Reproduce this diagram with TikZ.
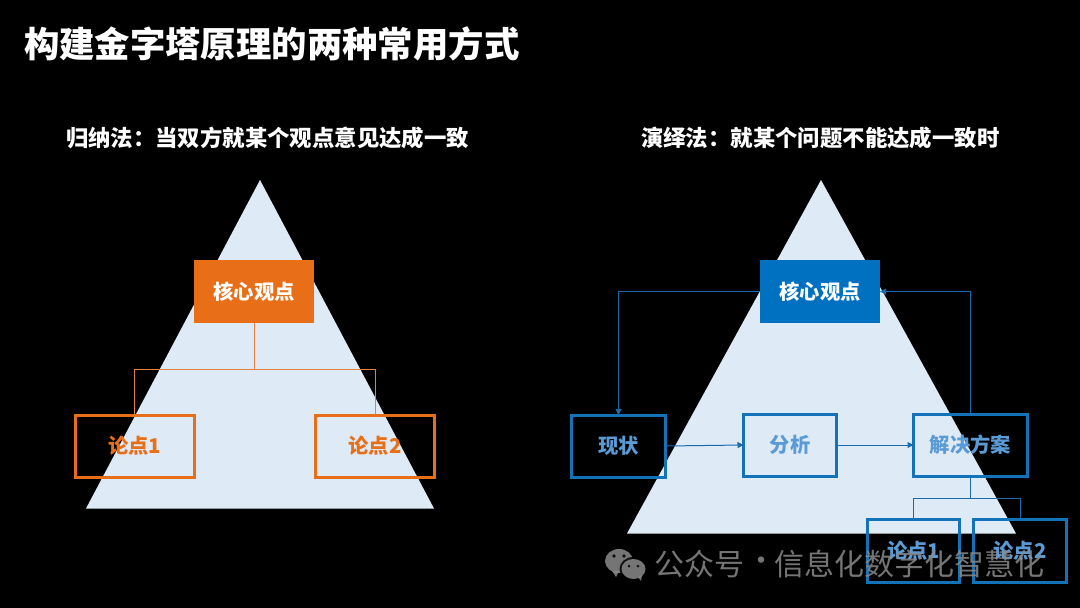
\documentclass[tikz,border=0pt]{standalone}
\usepackage{fontspec}
\setmainfont{Noto Sans CJK SC}
\usetikzlibrary{arrows.meta,calc}
\definecolor{tri}{HTML}{DEEAF6}
\definecolor{org}{HTML}{E86F17}
\definecolor{orgline}{HTML}{E5813F}
\definecolor{blu}{HTML}{0070C0}
\definecolor{bluebox}{HTML}{1273B8}
\definecolor{blutext}{HTML}{5B9BD5}
\definecolor{bluline}{HTML}{1A6BAE}
\definecolor{wm}{HTML}{8A8A8A}
\tikzset{
  x=1pt,y=-1pt,
  every node/.style={inner sep=0pt,outer sep=0pt},
  titletext/.style={text=white,font=\fontsize{35.4}{40}\selectfont\bfseries,anchor=west},
  subtext/.style={text=white,font=\fontsize{22.4}{26}\selectfont\bfseries,anchor=west},
  pyramid/.style={fill=tri,draw=none},
  solidbox/.style={text=white,font=\fontsize{20.3}{24}\selectfont\bfseries,minimum width=120pt,minimum height=63pt},
  orgsolid/.style={solidbox,fill=org},
  blusolid/.style={solidbox,fill=blu},
  orgbox/.style={draw=org,line width=3pt,text=org,font=\fontsize{20.3}{24}\selectfont\bfseries,minimum width=119pt,minimum height=62pt},
  blubox/.style={draw=bluebox,line width=3pt,text=blutext,font=\fontsize{20.3}{24}\selectfont\bfseries,minimum height=62pt},
  orgconn/.style={draw=orgline,line width=1pt},
  bluconn/.style={draw=bluline,line width=1pt},
  bluarrow/.style={bluconn,-{Triangle[length=6pt,width=6pt]}},
  watermark/.style={text=wm,font=\fontsize{30}{34}\selectfont,anchor=west,opacity=.85},
}
\begin{document}
\begin{tikzpicture}
\useasboundingbox (0,0) rectangle (1080,608);
\fill[black] (0,0) rectangle (1080,608);

\node[titletext] (title) at (24,44) {构建金字塔原理的两种常用方式};
\node[subtext] (subl) at (66,138) {归纳法\symbol{"FF1A}当双方就某个观点意见达成一致};
\node[subtext] (subr) at (641,138) {演绎法\symbol{"FF1A}就某个问题不能达成一致时};

% pyramids
\fill[pyramid] (260,180) -- (434,508.5) -- (86,508.5) -- cycle;
\fill[pyramid] (821,180) -- (1016,533.5) -- (627,533.5) -- cycle;

% left
\node[orgsolid] (lcore) at (254,291.5) {核心观点};
\node[orgbox] (lp1) at (134.5,446) {论点1};
\node[orgbox] (lp2) at (375,446) {论点2};
\coordinate (ljoin) at (lcore.south |- 0,369);
\draw[orgconn] (lcore.south) -- (ljoin);
\draw[orgconn] (lp1.north) -- (lp1.north |- ljoin) -- (lp2.north |- ljoin) -- (lp2.north);

% right
\node[blusolid] (rcore) at (820,291.5) {核心观点};
\node[blubox,minimum width=94pt] (state) at (618.5,446) {现状};
\node[blubox,minimum width=93pt] (analysis) at (790,445) {分析};
\node[blubox,minimum width=114pt] (solution) at (970.5,445) {解决方案};
\node[blubox,minimum width=92pt,minimum height=63pt] (rp1) at (913.5,550.5) {论点1};
\node[blubox,minimum width=93pt,minimum height=63pt] (rp2) at (1020,550.5) {论点2};

\draw[bluarrow] (rcore.west) -| (state.north);
\draw[bluarrow] (solution.north) |- (rcore.east);
\draw[bluarrow] (state.east) -- (analysis.west);
\draw[bluarrow] (analysis.east) -- (solution.west);
\coordinate (rjoin) at (solution.south |- 0,498);
\draw[bluconn] (solution.south) -- (rjoin);
\draw[bluconn] (rp1.north) -- (rp1.north |- rjoin) -- (rp2.north |- rjoin) -- (rp2.north);

% watermark
\begin{scope}[opacity=.85]
\fill[wm] (619,561) ellipse [x radius=14,y radius=12];
\fill[wm] (612,571) -- (616,577) -- (619,571) -- cycle;
\fill[black] (633.5,569) ellipse [x radius=14,y radius=12];
\fill[wm] (633.5,569) ellipse [x radius=12,y radius=10];
\fill[wm] (638,577) -- (641,581) -- (642,575) -- cycle;
\fill[black] (614,556) circle (1.8) (624,556) circle (1.8) (629,566) circle (1.5) (638,566) circle (1.5);
\end{scope}
\node[watermark] (wma) at (654,564) {公众号};
\node[watermark] (wmb) at (746,564) {·};
\node[watermark] (wmc) at (774,564) {信息化数字化智慧化};
\end{tikzpicture}
\end{document}
